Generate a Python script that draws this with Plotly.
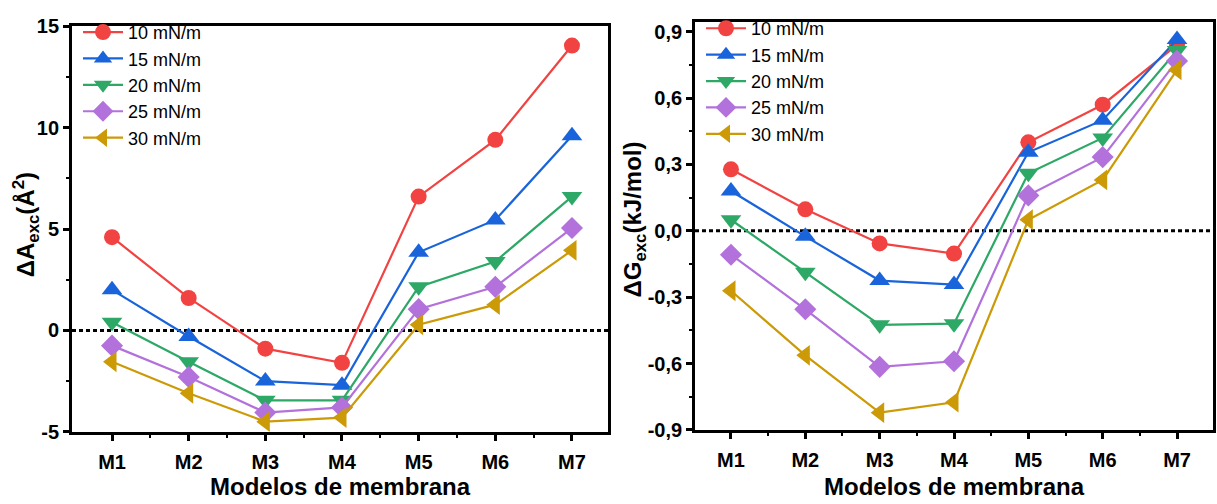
import plotly.graph_objects as go

# Membrane models and surface pressures
models = ["M1", "M2", "M3", "M4", "M5", "M6", "M7"]
pressures = ["10 mN/m", "15 mN/m", "20 mN/m", "25 mN/m", "30 mN/m"]

# Excess area (Å²) per model, one list per surface pressure
area_10 = [4.6, 1.6, -0.9, -1.6, 6.6, 9.4, 14.05]
area_15 = [2.0, -0.3, -2.5, -2.7, 3.85, 5.45, 9.6]
area_20 = [0.4, -1.55, -3.45, -3.45, 2.15, 3.4, 6.6]
area_25 = [-0.75, -2.3, -4.05, -3.8, 1.05, 2.15, 5.05]
area_30 = [-1.55, -3.1, -4.5, -4.3, 0.28, 1.27, 3.95]

# Excess Gibbs energy (kJ/mol) per model, one list per surface pressure
gibbs_10 = [0.278, 0.097, -0.057, -0.103, 0.40, 0.57, 0.84]
gibbs_15 = [0.18, -0.025, -0.225, -0.243, 0.355, 0.50, 0.865]
gibbs_20 = [0.05, -0.187, -0.425, -0.42, 0.26, 0.42, 0.815]
gibbs_25 = [-0.108, -0.355, -0.615, -0.59, 0.16, 0.333, 0.768]
gibbs_30 = [-0.271, -0.563, -0.822, -0.775, 0.05, 0.23, 0.727]

# Axis tick labels
area_ticks = [-5, 0, 5, 10, 15]
area_ticktext = ["-5", "0", "5", "10", "15"]
gibbs_ticks = [-0.9, -0.6, -0.3, 0.0, 0.3, 0.6, 0.9]
gibbs_ticktext = ["-0,9", "-0,6", "-0,3", "0,0", "0,3", "0,6", "0,9"]

colors = ["#F24343", "#1A64DB", "#2DA866", "#B271DB", "#CC9A06"]
symbols = ["circle", "triangle-up", "triangle-down", "diamond", "triangle-left"]
sizes = [16, 18, 18, 17, 18]

W, H = 1217, 504
FONT = "Arial, Liberation Sans, sans-serif"


def fx(p):
    return p / W


def fy(p):
    return 1 - p / H


xpos = list(range(1, len(models) + 1))
area_series = [area_10, area_15, area_20, area_25, area_30]
gibbs_series = [gibbs_10, gibbs_15, gibbs_20, gibbs_25, gibbs_30]

fig = go.Figure()

for i, name in enumerate(pressures):
    fig.add_trace(go.Scatter(
        x=xpos, y=area_series[i], name=name, mode="lines+markers",
        line=dict(color=colors[i], width=2.2),
        marker=dict(symbol=symbols[i], size=sizes[i], color=colors[i]),
        xaxis="x", yaxis="y", legend="legend",
    ))
for i, name in enumerate(pressures):
    fig.add_trace(go.Scatter(
        x=xpos, y=gibbs_series[i], name=name, mode="lines+markers",
        line=dict(color=colors[i], width=2.2),
        marker=dict(symbol=symbols[i], size=sizes[i], color=colors[i]),
        xaxis="x2", yaxis="y2", legend="legend2",
    ))

tickfont = dict(family=FONT, size=20, color="black", weight="bold")
common_x = dict(
    tickmode="array", tickvals=xpos, ticktext=models,
    ticks="outside", ticklen=6, tickwidth=2.5, tickcolor="black",
    ticklabelstandoff=4,
    showline=True, linecolor="black", linewidth=2.8, mirror=True,
    showgrid=False, zeroline=False, tickfont=tickfont,
    minor=dict(tickmode="array", tickvals=[v + 0.5 for v in xpos[:-1]],
               ticks="outside", ticklen=3, tickwidth=2, tickcolor="black"),
)
common_y = dict(
    tickmode="array", ticks="outside", ticklen=6, tickwidth=2.5,
    tickcolor="black", showline=True, linecolor="black", linewidth=2.8,
    mirror=True, showgrid=False, zeroline=False, tickfont=tickfont,
)

legend_font = dict(family=FONT, size=18, color="black")

fig.update_layout(
    width=W, height=H,
    margin=dict(l=0, r=0, t=0, b=0),
    paper_bgcolor="white", plot_bgcolor="white",
    font=dict(family=FONT, color="black"),
    xaxis=dict(common_x, domain=[fx(72), fx(608)], range=[0.478, 7.47], anchor="y"),
    yaxis=dict(common_y, domain=[fy(440), fy(16)], range=[-5, 15], anchor="x",
               tickvals=area_ticks, ticktext=area_ticktext,
               minor=dict(tickmode="array", tickvals=[-2.5, 2.5, 7.5, 12.5],
                          ticks="outside", ticklen=3, tickwidth=2, tickcolor="black")),
    xaxis2=dict(common_x, domain=[fx(695), fx(1213)], range=[0.516, 7.484], anchor="y2"),
    yaxis2=dict(common_y, domain=[fy(438), fy(11)], range=[-0.9, 0.946], anchor="x2",
                tickvals=gibbs_ticks, ticktext=gibbs_ticktext,
                minor=dict(tickmode="array",
                           tickvals=[-0.75, -0.45, -0.15, 0.15, 0.45, 0.75],
                           ticks="outside", ticklen=3, tickwidth=2, tickcolor="black")),
    legend=dict(x=fx(78), y=fy(3), xanchor="left", yanchor="top",
                bgcolor="rgba(0,0,0,0)", font=legend_font,
                tracegroupgap=0, itemwidth=40),
    legend2=dict(x=fx(701), y=fy(-1), xanchor="left", yanchor="top",
                 bgcolor="rgba(0,0,0,0)", font=legend_font,
                 tracegroupgap=0, itemwidth=40),
    showlegend=True,
)

# Dotted reference line at zero in both panels
for xr, yr in (("x", "y"), ("x2", "y2")):
    fig.add_shape(type="line", xref=f"{xr} domain", yref=yr, x0=0, x1=1, y0=0, y1=0,
                  line=dict(color="black", width=3, dash="4px,3px"), layer="below")

titlefont = dict(family=FONT, size=24, color="black", weight="bold")
fig.add_annotation(text="Modelos de membrana", xref="paper", yref="paper",
                   x=fx(340), y=fy(497), showarrow=False, font=titlefont,
                   xanchor="center", yanchor="middle")
fig.add_annotation(text="Modelos de membrana", xref="paper", yref="paper",
                   x=fx(954), y=fy(497), showarrow=False, font=titlefont,
                   xanchor="center", yanchor="middle")
fig.add_annotation(text="ΔA<sub>exc</sub>(Å<sup>2</sup>)", xref="paper", yref="paper",
                   x=fx(26), y=fy(224), showarrow=False, font=titlefont,
                   textangle=-90, xanchor="center", yanchor="middle")
fig.add_annotation(text="ΔG<sub>exc</sub>(kJ/mol)", xref="paper", yref="paper",
                   x=fx(634), y=fy(218), showarrow=False, font=titlefont,
                   textangle=-90, xanchor="center", yanchor="middle")

fig.write_html("out.html")
